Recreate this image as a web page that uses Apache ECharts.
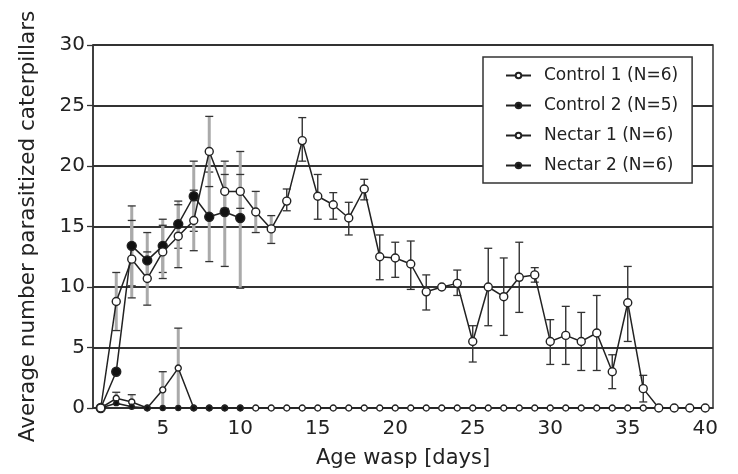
<!DOCTYPE html>
<html>
<head>
<meta charset="utf-8">
<script src="https://cdn.jsdelivr.net/npm/echarts@6/dist/echarts.min.js"></script>
<style>
html, body { margin: 0; background: #fff; }
#main { width: 738px; height: 474px; }
</style>
</head>
<body>
<div id="main"></div>
<script>
// days 1..40
const days = [1, 2, 3, 4, 5, 6, 7, 8, 9, 10, 11, 12, 13, 14, 15, 16, 17, 18, 19, 20,
              21, 22, 23, 24, 25, 26, 27, 28, 29, 30, 31, 32, 33, 34, 35, 36, 37, 38, 39, 40];
const xTicks = [5, 10, 15, 20, 25, 30, 35, 40];

const control1 = [0, 0.8, 0.5, 0, 1.5, 3.3, 0, 0, 0, 0, 0, 0, 0, 0, 0, 0, 0, 0, 0, 0,
                  0, 0, 0, 0, 0, 0, 0, 0, 0, 0, 0, 0, 0, 0, 0, 0, 0, 0, 0, 0];
const control1Low = [null, 0.3, 0, null, 0, 0];
const control1High = [null, 1.3, 1.1, null, 3.0, 6.6];

const control2 = [0, 0.4, 0.1, 0, 0, 0, 0, 0, 0, 0];

const nectar1 = [0, 8.8, 12.3, 10.7, 12.9, 14.2, 15.5, 21.2, 17.9, 17.9,
                 16.2, 14.8, 17.1, 22.1, 17.5, 16.8, 15.7, 18.1, 12.5, 12.4,
                 11.9, 9.6, 10.0, 10.3, 5.5, 10.0, 9.2, 10.8, 11.0, 5.5,
                 6.0, 5.5, 6.2, 3.0, 8.7, 1.6, 0, 0, 0, 0];
const nectar1Low = [null, 6.4, 9.1, 8.5, 10.7, 11.6, 13.0, 18.3, 16.5, 16.5,
                    14.5, 13.6, 16.3, 20.4, 15.6, 15.6, 14.3, 17.2, 10.6, 10.8,
                    9.8, 8.1, null, 9.3, 3.8, 6.8, 6.0, 7.9, 10.4, 3.6,
                    3.6, 3.1, 3.1, 1.6, 5.5, 0.5, null, null, null, null];
const nectar1High = [null, 11.2, 15.5, 12.9, 15.1, 16.8, 18.0, 24.1, 19.3, 19.3,
                     17.9, 15.9, 18.1, 24.0, 19.3, 17.8, 17.0, 18.9, 14.3, 13.7,
                     13.8, 11.0, null, 11.4, 6.8, 13.2, 12.4, 13.7, 11.6, 7.3,
                     8.4, 7.9, 9.3, 4.4, 11.7, 2.7, null, null, null, null];

const nectar2 = [0, 3.0, 13.4, 12.2, 13.4, 15.2, 17.5, 15.8, 16.2, 15.7];
const nectar2Low = [null, null, 10.1, 10.0, 11.2, 13.2, 14.6, 12.1, 11.7, 9.9];
const nectar2High = [null, null, 16.7, 14.5, 15.6, 17.1, 20.4, 19.5, 20.4, 21.2];

const FONT = 'DejaVu Sans';
const INK = '#222';

function points(vals) {
  return vals.map(function (v, i) { return [days[i], v]; });
}
function bars(lows, highs, from, to) {
  const out = [];
  lows.forEach(function (lo, i) {
    if (lo == null) return;
    if (days[i] < from || days[i] > to) return;
    out.push([days[i], lo, highs[i]]);
  });
  return out;
}
function errorBars(color, width) {
  return function (params, api) {
    const x = api.value(0);
    const lo = api.coord([x, api.value(1)]);
    const hi = api.coord([x, api.value(2)]);
    const w = 4;
    const cap = { stroke: '#333', lineWidth: 1.3 };
    return {
      type: 'group',
      children: [
        { type: 'line', shape: { x1: lo[0], y1: lo[1], x2: hi[0], y2: hi[1] }, style: { stroke: color, lineWidth: width } },
        { type: 'line', shape: { x1: hi[0] - w, y1: hi[1], x2: hi[0] + w, y2: hi[1] }, style: cap },
        { type: 'line', shape: { x1: lo[0] - w, y1: lo[1], x2: lo[0] + w, y2: lo[1] }, style: cap }
      ]
    };
  };
}
function barSeries(data, color, width) {
  return {
    type: 'custom',
    renderItem: errorBars(color, width),
    data: data,
    encode: { x: 0, y: [1, 2] },
    z: 1,
    silent: true
  };
}
function lineSeries(name, vals, filled, size) {
  return {
    name: name,
    type: 'line',
    data: points(vals),
    symbol: 'circle',
    symbolSize: size,
    showAllSymbol: true,
    color: INK,
    lineStyle: { color: INK, width: 1.5 },
    itemStyle: { color: filled ? '#111' : '#fff', borderColor: INK, borderWidth: 1.4 },
    z: 3,
    animation: false
  };
}

const chart = echarts.init(document.getElementById('main'));
chart.setOption({
  animation: false,
  grid: {
    left: 93, right: 25, top: 45, bottom: 64,
    show: true, borderColor: '#333', borderWidth: 1.5
  },
  legend: {
    orient: 'vertical',
    left: 483, top: 57,
    padding: [10, 14, 9, 22],
    itemGap: 13,
    itemWidth: 25,
    itemHeight: 7,
    backgroundColor: '#fff',
    borderColor: '#333',
    borderWidth: 1.5,
    textStyle: { fontFamily: FONT, fontSize: 17, color: INK, padding: [0, 0, 0, 8] },
    data: ['Control 1 (N=6)', 'Control 2 (N=5)', 'Nectar 1 (N=6)', 'Nectar 2 (N=6)']
  },
  xAxis: {
    type: 'value',
    min: 0.5, max: 40.5,
    name: 'Age wasp [days]',
    nameLocation: 'middle',
    nameGap: 40,
    nameTextStyle: { fontFamily: FONT, fontSize: 21, color: INK },
    axisLine: { lineStyle: { color: '#333', width: 1.5 } },
    axisTick: { show: false },
    splitLine: { show: false },
    axisLabel: { customValues: xTicks, fontFamily: FONT, fontSize: 20, color: INK, margin: 11 }
  },
  yAxis: {
    type: 'value',
    min: 0, max: 30, interval: 5,
    name: 'Average number parasitized caterpillars',
    nameLocation: 'middle',
    nameGap: 54,
    nameTextStyle: { fontFamily: FONT, fontSize: 21.5, color: INK },
    axisLine: { show: true, lineStyle: { color: '#333', width: 1.5 } },
    axisTick: { show: true, length: 6, lineStyle: { color: '#333', width: 1.3 } },
    splitLine: { lineStyle: { color: '#333', width: 2 } },
    axisLabel: { fontFamily: FONT, fontSize: 20, color: INK, margin: 8 }
  },
  series: [
    barSeries(bars(control1Low, control1High, 1, 40), '#aaa', 3),
    barSeries(bars(nectar2Low, nectar2High, 1, 40), '#aaa', 3),
    barSeries(bars(nectar1Low, nectar1High, 1, 12), '#aaa', 3),
    barSeries(bars(nectar1Low, nectar1High, 13, 40), '#333', 1.4),
    lineSeries('Control 1 (N=6)', control1, false, 6),
    lineSeries('Control 2 (N=5)', control2, true, 5),
    lineSeries('Nectar 2 (N=6)', nectar2, true, 9),
    lineSeries('Nectar 1 (N=6)', nectar1, false, 8)
  ]
});
</script>
</body>
</html>
